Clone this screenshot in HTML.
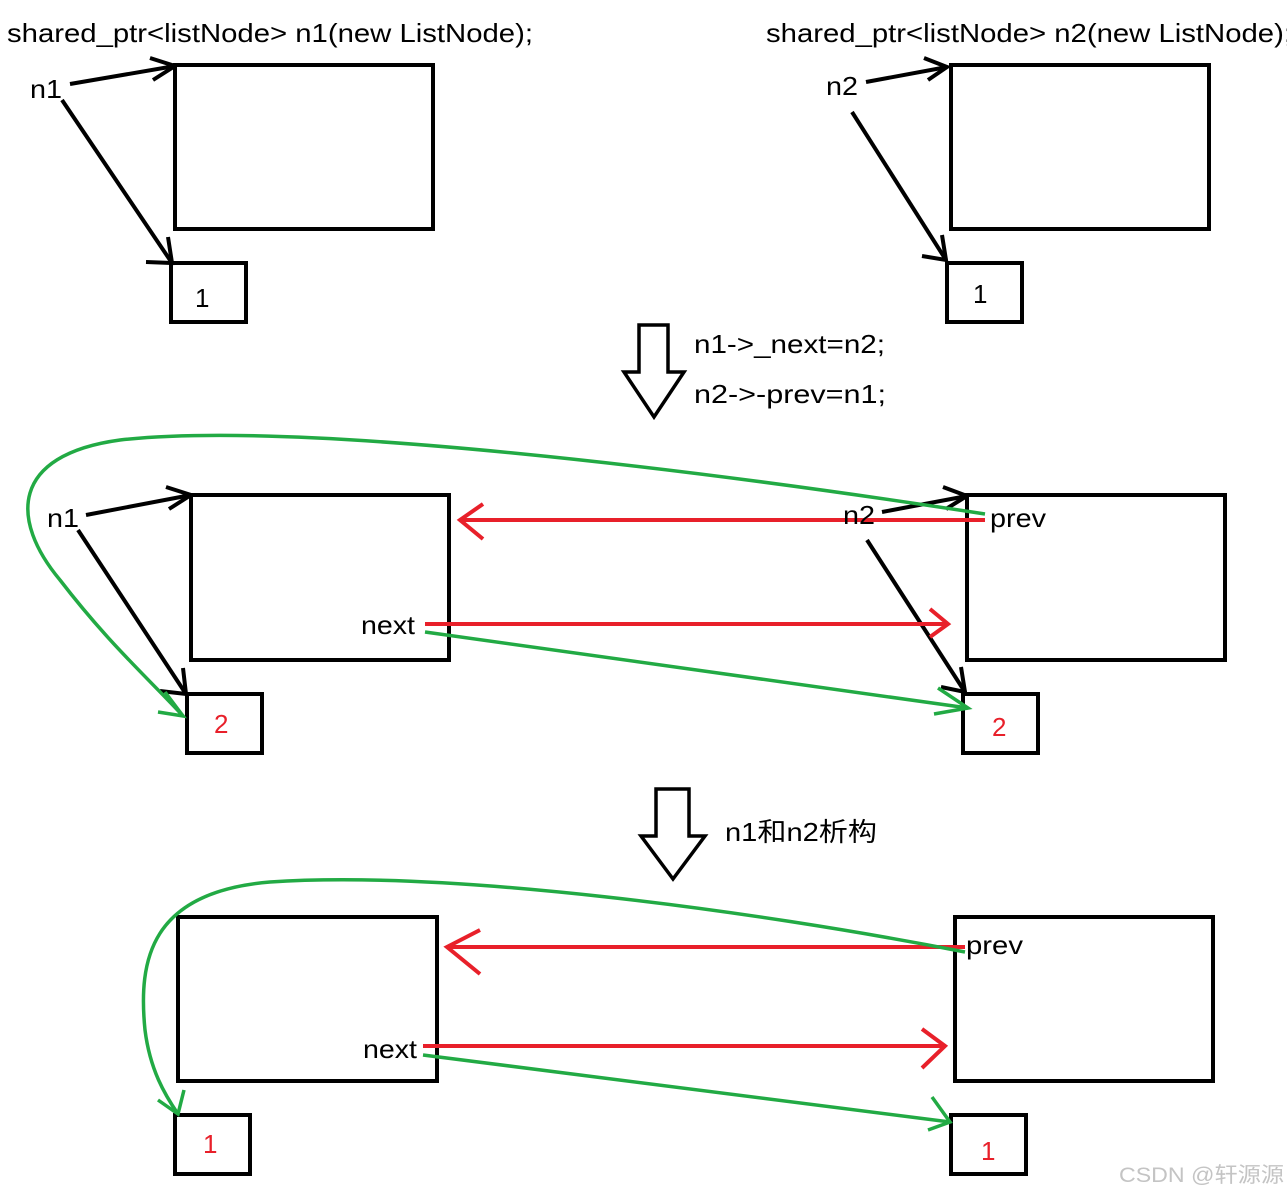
<!DOCTYPE html>
<html><head><meta charset="utf-8"><style>
html,body{margin:0;padding:0;background:#fff;}
svg{display:block;}
text{font-family:"Liberation Sans","Noto Sans CJK SC",sans-serif;font-size:26px;fill:#000;}
</style></head><body>
<svg width="1287" height="1195" viewBox="0 0 1287 1195" xmlns="http://www.w3.org/2000/svg">
<g fill="none" stroke="#000" stroke-width="4">
<rect x="175" y="65" width="258" height="164"/>
<rect x="171" y="263" width="75" height="59"/>
<rect x="951" y="65" width="258" height="164"/>
<rect x="947" y="263" width="75" height="59"/>
<line x1="70" y1="84" x2="175" y2="66"/><polyline points="150,58 175,66 153,80"/>
<line x1="62" y1="100" x2="172" y2="263"/><polyline points="168,237 172,263 146,262"/>
<line x1="866" y1="82" x2="947" y2="67"/><polyline points="924,58 947,67 928,80"/>
<line x1="852" y1="112" x2="946" y2="260"/><polyline points="942,235 946,260 922,256"/>
<polygon points="639,325 668,325 668,372 684,372 654,417 624,372 639,372" stroke-width="3.5"/>
<rect x="191" y="495" width="258" height="165"/>
<rect x="187" y="694" width="75" height="59"/>
<rect x="967" y="495" width="258" height="165"/>
<rect x="963" y="694" width="75" height="59"/>
<line x1="86" y1="515" x2="191" y2="495"/><polyline points="166,487 191,495 169,509"/>
<line x1="78" y1="530" x2="186" y2="694"/><polyline points="183,668 186,694 160,691"/>
<line x1="882" y1="512" x2="967" y2="496"/><polyline points="943,487 967,496 946,509"/>
<line x1="867" y1="540" x2="965" y2="692"/><polyline points="961,667 965,692 941,687"/>
<polygon points="656,789 689,789 689,836 705,836 673,879 641,836 656,836" stroke-width="3.5"/>
<rect x="178" y="917" width="259" height="164"/>
<rect x="175" y="1115" width="75" height="59"/>
<rect x="955" y="917" width="258" height="164"/>
<rect x="951" y="1115" width="75" height="59"/>
</g>
<g fill="none" stroke="#e8202a" stroke-width="4">
<line x1="985" y1="520" x2="460" y2="520"/><polyline points="483,504 460,520 483,539"/>
<line x1="425" y1="624" x2="948" y2="624"/><polyline points="930,609 948,624 930,637"/>
<line x1="965" y1="947" x2="447" y2="947"/><polyline points="480,930 447,947 480,974"/>
<line x1="423" y1="1046" x2="945" y2="1046"/><polyline points="922,1029 945,1046 922,1068"/>
</g>
<g fill="none" stroke="#22aa44" stroke-width="3.5">
<path d="M985,514 C700,470 300,420 120,440 C10,455 10,520 60,580 C110,645 150,680 183,716"/>
<polyline points="165,692 183,716 158,712"/>
<line x1="425" y1="632" x2="968" y2="708"/><polyline points="938,688 968,708 934,714"/>
<path d="M965,952 C750,910 450,870 270,882 C150,892 138,960 145,1030 C150,1070 165,1095 178,1114"/>
<polyline points="158,1100 178,1114 184,1090"/>
<line x1="423" y1="1055" x2="950" y2="1122"/><polyline points="932,1097 950,1122 928,1130"/>
</g>
<text x="7" y="42" textLength="526" lengthAdjust="spacingAndGlyphs">shared_ptr&lt;listNode&gt; n1(new ListNode);</text>
<text x="766" y="42" textLength="526" lengthAdjust="spacingAndGlyphs">shared_ptr&lt;listNode&gt; n2(new ListNode);</text>
<text x="30" y="98" textLength="32" lengthAdjust="spacingAndGlyphs">n1</text>
<text x="826" y="95" textLength="32" lengthAdjust="spacingAndGlyphs">n2</text>
<text x="195" y="307">1</text>
<text x="973" y="303">1</text>
<text x="694" y="353" textLength="191" lengthAdjust="spacingAndGlyphs">n1-&gt;_next=n2;</text>
<text x="694" y="403" textLength="192" lengthAdjust="spacingAndGlyphs">n2-&gt;-prev=n1;</text>
<text x="47" y="527" textLength="32" lengthAdjust="spacingAndGlyphs">n1</text>
<text x="843" y="524" textLength="32" lengthAdjust="spacingAndGlyphs">n2</text>
<text x="990" y="527" textLength="56" lengthAdjust="spacingAndGlyphs">prev</text>
<text x="361" y="634" textLength="54" lengthAdjust="spacingAndGlyphs">next</text>
<text x="214" y="733" style="fill:#e8202a">2</text>
<text x="992" y="736" style="fill:#e8202a">2</text>
<text x="725" y="841" textLength="152" lengthAdjust="spacingAndGlyphs">n1和n2析构</text>
<text x="966" y="954" textLength="57" lengthAdjust="spacingAndGlyphs">prev</text>
<text x="363" y="1058" textLength="54" lengthAdjust="spacingAndGlyphs">next</text>
<text x="203" y="1153" style="fill:#e8202a">1</text>
<text x="981" y="1160" style="fill:#e8202a">1</text>
<text x="1119" y="1182" textLength="165" lengthAdjust="spacingAndGlyphs" style="font-size:21px;fill:#c4c4c4">CSDN @轩源源</text>
</svg>
</body></html>
